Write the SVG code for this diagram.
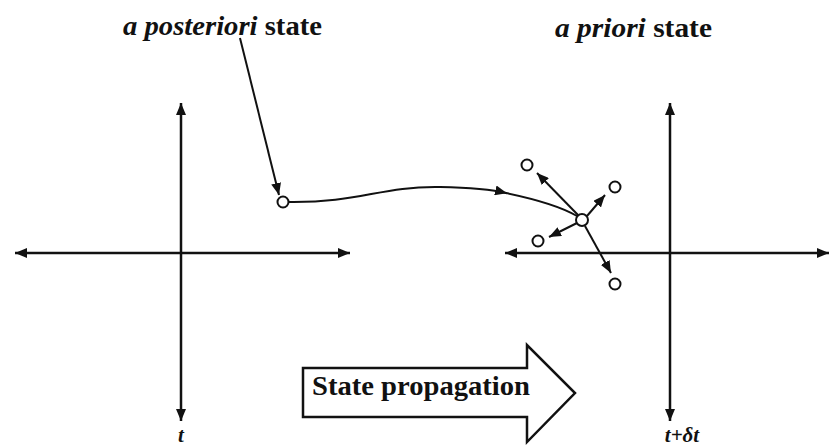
<svg xmlns="http://www.w3.org/2000/svg" width="830" height="448" viewBox="0 0 830 448">
<style>
  .ax { stroke:#111; stroke-width:2.5; fill:none; }
  .ln { stroke:#111; stroke-width:2; fill:none; }
  .nd { fill:#fff; stroke:#111; stroke-width:2; }
  .lbl { font-family:"Liberation Serif","Times New Roman",serif; font-weight:bold; fill:#111; }
  .it { font-style:italic; }
</style>
<defs>
  <marker id="ah" viewBox="0 0 12 10" refX="12" refY="5" markerWidth="12" markerHeight="10" markerUnits="userSpaceOnUse" orient="auto-start-reverse">
    <path d="M0,0 L12,5 L0,10 Z" fill="#111"/>
  </marker>
</defs>
<rect width="830" height="448" fill="#fff"/>

<g id="connectors">
  <!-- left axes -->
  <line class="ax" x1="181" y1="103" x2="181" y2="421" marker-start="url(#ah)" marker-end="url(#ah)"/>
  <line class="ax" x1="15" y1="253" x2="350" y2="253" marker-start="url(#ah)" marker-end="url(#ah)"/>
  <!-- right axes -->
  <line class="ax" x1="670" y1="103" x2="670" y2="421" marker-start="url(#ah)" marker-end="url(#ah)"/>
  <line class="ax" x1="505" y1="253" x2="829" y2="253" marker-start="url(#ah)" marker-end="url(#ah)"/>
  <!-- annotation pointer -->
  <line class="ln" x1="240" y1="38" x2="279" y2="195" marker-end="url(#ah)"/>
  <!-- propagation curve -->
  <path class="ln" d="M288,202 C360,203 380,186 440,187 C470,187.5 490,189 507,193.3" marker-end="url(#ah)"/>
  <path class="ln" d="M505,192.8 C535,199 560,206 577,216"/>
  <!-- spread arrows -->
  <line class="ln" x1="578" y1="215" x2="537" y2="173" marker-end="url(#ah)"/>
  <line class="ln" x1="587" y1="216" x2="605" y2="195" marker-end="url(#ah)"/>
  <line class="ln" x1="577" y1="223" x2="549" y2="237" marker-end="url(#ah)"/>
  <line class="ln" x1="585" y1="226" x2="611" y2="273" marker-end="url(#ah)"/>
</g>

<g id="node-posteriori"><circle class="nd" cx="283" cy="202" r="5.5"/></g>
<g id="node-center"><circle class="nd" cx="582" cy="220" r="6"/></g>
<g id="node-tl"><circle class="nd" cx="527" cy="165" r="5.5"/></g>
<g id="node-tr"><circle class="nd" cx="615" cy="187" r="5.5"/></g>
<g id="node-bl"><circle class="nd" cx="538" cy="241" r="5.5"/></g>
<g id="node-b"><circle class="nd" cx="615" cy="284" r="5.5"/></g>

<g id="label-posteriori">
  <text class="lbl" x="123" y="35" font-size="28" textLength="199" lengthAdjust="spacingAndGlyphs"><tspan class="it">a posteriori</tspan> state</text>
</g>
<g id="label-priori">
  <text class="lbl" x="555" y="37" font-size="28" textLength="157" lengthAdjust="spacingAndGlyphs"><tspan class="it">a priori</tspan> state</text>
</g>

<g id="propagation-arrow">
  <polygon points="303,368 527,368 527,345 575,393 527,442 527,417 303,417" fill="#fff" stroke="#111" stroke-width="2.5" stroke-linejoin="miter"/>
  <text class="lbl" x="312" y="395" font-size="28" textLength="218" lengthAdjust="spacingAndGlyphs">State propagation</text>
</g>

<g id="label-t">
  <text class="lbl it" x="181" y="442" font-size="21" text-anchor="middle">t</text>
</g>
<g id="label-tdt">
  <text class="lbl it" x="682" y="442" font-size="21" text-anchor="middle">t+δt</text>
</g>
</svg>
